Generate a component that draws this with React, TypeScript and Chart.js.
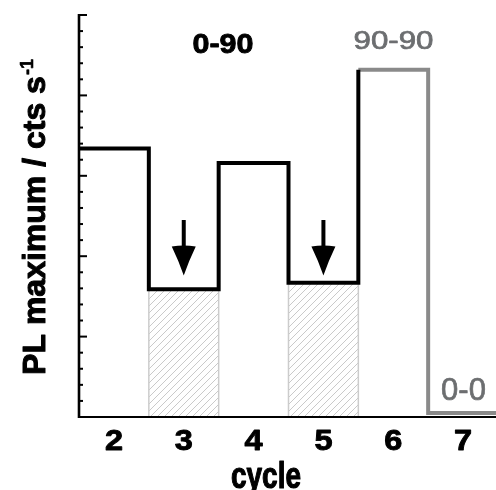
import { useEffect, useRef } from 'react';
import { Chart, registerables } from 'chart.js';

Chart.register(...registerables);

// ---- data ----
const cycles = [2, 3, 4, 5, 6, 7];
const tickLabels = ['2', '3', '4', '5', '6', '7'];
const plMaximum = [3.34, 1.59, 3.16, 1.67, 4.32, 0.05];
const conditions = ['0-90', '0-90', '0-90', '0-90', '90-90', '0-0'];
const hatchedCycles = [3, 5];
const arrowCycles = [3, 5];
const arrowFrom = [2.45, 2.45];
const arrowTo = [1.76, 1.76];
const yMajorTicks = [0, 1, 2, 3, 4, 5];
const yMinorPerMajor = 5;
const xRange = [1.5, 7.5];
const conditionLabels = ['0-90', '90-90', '0-0'];
const xTitle = 'cycle';
const yTitleMain = 'PL maximum / cts s';
const yTitleSup = '-1';

const FONT = '"Liberation Sans", Arial, Helvetica, sans-serif';

function stepPoints(idxs: number[]) {
  const pts: { x: number; y: number }[] = [];
  idxs.forEach((i) => {
    pts.push({ x: cycles[i] - 0.5, y: plMaximum[i] }, { x: cycles[i] + 0.5, y: plMaximum[i] });
  });
  return pts;
}

const blackIdx = conditions.map((c, i) => (c === '0-90' ? i : -1)).filter((i) => i >= 0);
const firstGray = conditions.findIndex((c) => c !== '0-90');
const grayIdx = conditions.map((c, i) => (i >= firstGray ? i : -1)).filter((i) => i >= 0);
const blackPoints = [
  ...stepPoints(blackIdx),
  { x: cycles[firstGray] - 0.5, y: plMaximum[firstGray] },
];
const grayPoints = stepPoints(grayIdx);

function heavyText(ctx: CanvasRenderingContext2D, t: string, x: number, y: number, sw: number) {
  ctx.fillText(t, x, y);
  if (sw > 0) {
    ctx.lineWidth = sw;
    ctx.lineJoin = 'round';
    ctx.strokeStyle = ctx.fillStyle as string;
    ctx.strokeText(t, x, y);
  }
}

function scaledText(
  ctx: CanvasRenderingContext2D,
  t: string,
  x: number,
  y: number,
  sx: number,
  sy: number,
  sw: number
) {
  ctx.save();
  ctx.translate(x, y);
  ctx.scale(sx, sy);
  heavyText(ctx, t, 0, 0, sw);
  ctx.restore();
}

const overlayPlugin = {
  id: 'overlay',
  afterDatasetsDraw(chart: any) {
    const { ctx, chartArea, scales } = chart;
    const xs = scales.x;
    const ys = scales.y;
    const bottom = ys.getPixelForValue(0);
    const top = ys.getPixelForValue(yMajorTicks[yMajorTicks.length - 1]);
    const left = chartArea.left;
    ctx.save();

    // axes
    ctx.strokeStyle = '#000';
    ctx.lineWidth = 2.6;
    ctx.beginPath();
    ctx.moveTo(left, top - 1);
    ctx.lineTo(left, bottom + 1);
    ctx.stroke();
    ctx.lineWidth = 2;
    ctx.beginPath();
    ctx.moveTo(left - 1, bottom);
    ctx.lineTo(chartArea.right + 2, bottom);
    ctx.stroke();

    // y ticks (inward)
    ctx.lineWidth = 2;
    for (let m = 0; m < yMajorTicks.length; m++) {
      const v = yMajorTicks[m];
      const py = ys.getPixelForValue(v);
      ctx.beginPath();
      ctx.moveTo(left, py);
      ctx.lineTo(left + 8, py);
      ctx.stroke();
      if (m < yMajorTicks.length - 1) {
        const step = (yMajorTicks[m + 1] - v) / yMinorPerMajor;
        for (let k = 1; k < yMinorPerMajor; k++) {
          const pm = ys.getPixelForValue(v + k * step);
          ctx.beginPath();
          ctx.moveTo(left, pm);
          ctx.lineTo(left + 4, pm);
          ctx.stroke();
        }
      }
    }

    // arrows
    ctx.fillStyle = '#000';
    arrowCycles.forEach((c, i) => {
      const px = xs.getPixelForValue(c);
      const y0 = ys.getPixelForValue(arrowFrom[i]);
      const y1 = ys.getPixelForValue(arrowTo[i]);
      const headLen = 29;
      const headW = 24;
      ctx.lineWidth = 4;
      ctx.beginPath();
      ctx.moveTo(px, y0);
      ctx.lineTo(px, y1 - headLen + 2);
      ctx.stroke();
      ctx.beginPath();
      ctx.moveTo(px - headW / 2, y1 - headLen);
      ctx.quadraticCurveTo(px, y1 - headLen - 2, px + headW / 2, y1 - headLen);
      ctx.quadraticCurveTo(px + 5, y1 - headLen / 2, px, y1);
      ctx.quadraticCurveTo(px - 5, y1 - headLen / 2, px - headW / 2, y1 - headLen);
      ctx.closePath();
      ctx.fill();
    });

    // x tick labels
    ctx.fillStyle = '#000';
    ctx.font = `bold 29px ${FONT}`;
    ctx.textAlign = 'center';
    ctx.textBaseline = 'alphabetic';
    cycles.forEach((c, i) => {
      scaledText(ctx, tickLabels[i], xs.getPixelForValue(c), bottom + 33, 1.12, 1, 0.9);
    });

    // x title
    ctx.font = `bold 28px ${FONT}`;
    scaledText(ctx, xTitle, 266, 488, 1, 1.35, 0.9);

    // y title
    ctx.save();
    ctx.translate(45, (top + bottom) / 2 + 1);
    ctx.rotate(-Math.PI / 2);
    ctx.textAlign = 'left';
    ctx.font = `bold 32px ${FONT}`;
    const mw = ctx.measureText(yTitleMain).width;
    ctx.font = `bold 18px ${FONT}`;
    const sw = ctx.measureText(yTitleSup).width;
    const total = mw + sw + 1;
    ctx.font = `bold 32px ${FONT}`;
    heavyText(ctx, yTitleMain, -total / 2, 0, 1);
    ctx.font = `bold 18px ${FONT}`;
    heavyText(ctx, yTitleSup, -total / 2 + mw + 1, -12, 0.6);
    ctx.restore();

    // condition labels
    ctx.textAlign = 'center';
    ctx.font = `bold 28px ${FONT}`;
    ctx.fillStyle = '#000';
    const w0 = ctx.measureText(conditionLabels[0]).width;
    scaledText(ctx, conditionLabels[0], 223, 53, 61 / w0, 1, 0.9);

    ctx.fillStyle = '#6c6e70';
    ctx.font = `25px ${FONT}`;
    const w1 = ctx.measureText(conditionLabels[1]).width;
    scaledText(ctx, conditionLabels[1], 393.5, 49, 80 / w1, 1, 0.7);

    ctx.font = `31px ${FONT}`;
    heavyText(ctx, conditionLabels[2], 463.5, 400, 0.7);

    ctx.restore();
  },
};

export default function App() {
  const ref = useRef<HTMLCanvasElement>(null);

  useEffect(() => {
    const canvas = ref.current!;
    const ctx = canvas.getContext('2d')!;

    const pc = document.createElement('canvas');
    pc.width = 7;
    pc.height = 7;
    const p = pc.getContext('2d')!;
    p.fillStyle = '#ffffff';
    p.fillRect(0, 0, 7, 7);
    p.strokeStyle = '#cacaca';
    p.lineWidth = 1;
    p.beginPath();
    p.moveTo(0, 7);
    p.lineTo(7, 0);
    p.moveTo(-1, 1);
    p.lineTo(1, -1);
    p.moveTo(6, 8);
    p.lineTo(8, 6);
    p.stroke();
    const pattern = ctx.createPattern(pc, 'repeat');

    const hatchSets = hatchedCycles.map((c) => {
      const i = cycles.indexOf(c);
      return {
        data: [
          { x: c - 0.5, y: 0 },
          { x: c - 0.5, y: plMaximum[i] },
          { x: c + 0.5, y: plMaximum[i] },
          { x: c + 0.5, y: 0 },
        ],
        borderColor: '#cccccc',
        borderWidth: 1.5,
        backgroundColor: pattern,
        fill: 'origin',
        pointRadius: 0,
        tension: 0,
        order: 2,
      };
    });

    const chart = new Chart(canvas, {
      type: 'line',
      data: {
        datasets: [
          {
            data: blackPoints,
            borderColor: '#000000',
            borderWidth: 4,
            fill: false,
            pointRadius: 0,
            tension: 0,
            borderJoinStyle: 'miter',
            borderCapStyle: 'butt',
            order: 0,
          },
          {
            data: grayPoints,
            borderColor: '#8a8a8a',
            borderWidth: 4,
            fill: false,
            pointRadius: 0,
            tension: 0,
            borderJoinStyle: 'miter',
            borderCapStyle: 'butt',
            order: 1,
          },
          ...hatchSets,
        ] as any,
      },
      options: {
        animation: false,
        responsive: false,
        devicePixelRatio: 1,
        layout: { padding: { left: 79, top: 15, right: 0, bottom: 73 } },
        plugins: { legend: { display: false }, tooltip: { enabled: false } },
        scales: {
          x: { type: 'linear', min: xRange[0], max: xRange[1], display: false },
          y: {
            type: 'linear',
            min: yMajorTicks[0],
            max: yMajorTicks[yMajorTicks.length - 1],
            display: false,
          },
        },
      },
      plugins: [overlayPlugin],
    });

    return () => chart.destroy();
  }, []);

  return (
    <div
      style={{
        position: 'fixed',
        left: 0,
        top: 0,
        width: 496,
        height: 490,
        overflow: 'hidden',
        background: '#ffffff',
      }}
    >
      <canvas ref={ref} width={498} height={490} style={{ width: 498, height: 490, display: 'block' }} />
    </div>
  );
}
